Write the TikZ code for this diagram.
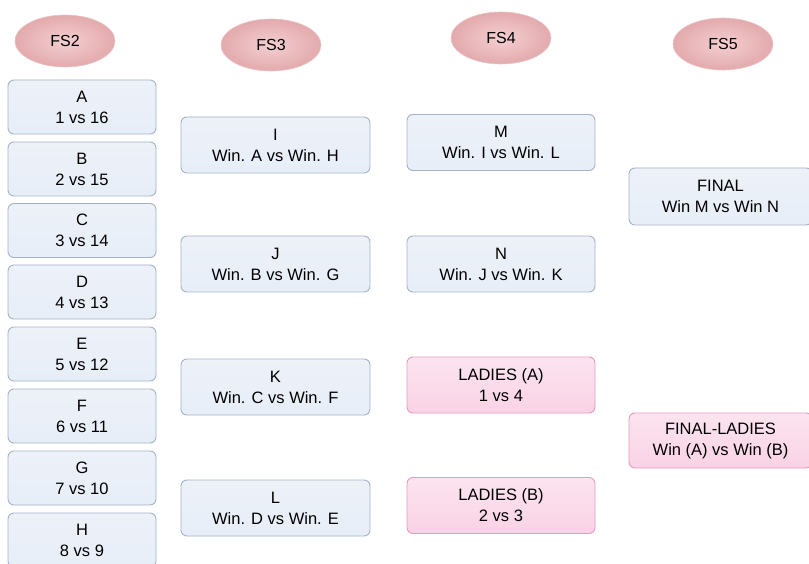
\documentclass[tikz,border=0pt]{standalone}
\usepackage{fontspec}
\setmainfont{Liberation Sans}
\usetikzlibrary{shapes.geometric}
\definecolor{boxfill}{HTML}{EDF1F8}
\definecolor{boxline}{HTML}{A4B3C8}
\definecolor{boxglow}{HTML}{C6DDF5}
\definecolor{pinkfill}{HTML}{FCE4EF}
\definecolor{pinkline}{HTML}{E59BC0}
\definecolor{pinkglow}{HTML}{F08CBE}
\definecolor{ellin}{HTML}{F4CFD1}
\definecolor{ellout}{HTML}{E3AAAD}
\tikzset{
  x=1pt, y=-1pt,
  match/.style={rectangle, rounded corners=6pt, draw=boxline, line width=0.9pt,
    top color=boxfill, bottom color=boxfill!85!boxglow, align=center,
    font=\fontsize{16.5}{21}\selectfont, inner sep=0pt},
  ladies/.style={match, draw=pinkline, top color=pinkfill, bottom color=pinkfill!80!pinkglow},
  c1/.style={match, minimum width=148pt, minimum height=54pt},
  c2/.style={match, minimum width=189pt, minimum height=56pt},
  c3/.style={match, minimum width=188pt, minimum height=56pt},
  stage/.style={ellipse, draw=ellout!70!white, line width=0.6pt, inner color=ellin, outer color=ellout,
    minimum width=100pt, minimum height=52pt, font=\fontsize{16}{19}\selectfont, inner sep=0pt}
}
\begin{document}
\begin{tikzpicture}
\useasboundingbox (0,0) rectangle (809,564);
\fill[white] (0,0) rectangle (809,564);
\begin{scope}
\clip (0,0) rectangle (809,564);
% stage ellipses
\node[stage] (fs2) at (65,41) {FS2};
\node[stage] (fs3) at (271,45) {FS3};
\node[stage] (fs4) at (501,38) {FS4};
\node[stage] (fs5) at (723,44) {FS5};
% FS2 column
\node[c1] (a) at (82,107) {A\\1 vs 16};
\node[c1] (b) at (82,169) {B\\2 vs 15};
\node[c1] (c) at (82,230.5) {C\\3 vs 14};
\node[c1] (d) at (82,292) {D\\4 vs 13};
\node[c1] (e) at (82,354) {E\\5 vs 12};
\node[c1] (f) at (82,416) {F\\6 vs 11};
\node[c1] (g) at (82,478) {G\\7 vs 10};
\node[c1] (h) at (82,540) {H\\8 vs 9};
% FS3 column
\node[c2] (i) at (275.5,145) {I\\Win. A vs Win. H};
\node[c2] (j) at (275.5,264) {J\\Win. B vs Win. G};
\node[c2] (k) at (275.5,387) {K\\Win. C vs Win. F};
\node[c2] (l) at (275.5,508) {L\\Win. D vs Win. E};
% FS4 column
\node[c3] (m) at (501,142.5) {M\\Win. I vs Win. L};
\node[c3] (n) at (501,264) {N\\Win. J vs Win. K};
\node[c3, ladies] (la) at (501,385) {LADIES (A)\\1 vs 4};
\node[c3, ladies] (lb) at (501,505.5) {LADIES (B)\\2 vs 3};
% FS5 column
\node[match, minimum width=183pt, minimum height=57pt] (final) at (720.5,196.5) {FINAL\\Win M vs Win N};
\node[match, ladies, minimum width=183pt, minimum height=55pt] (fl) at (720.5,440.5) {FINAL-LADIES\\Win (A) vs Win (B)};
\end{scope}
\end{tikzpicture}
\end{document}
